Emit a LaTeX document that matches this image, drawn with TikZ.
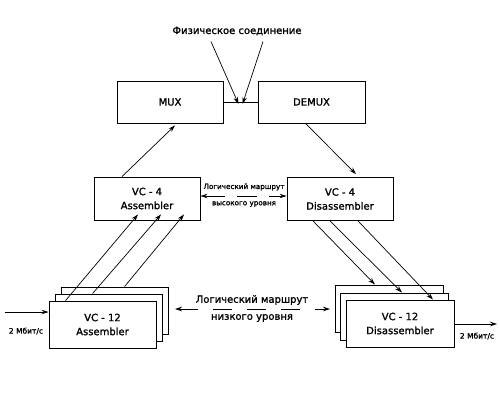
\documentclass[tikz,border=0pt]{standalone}
\usepackage{fontspec}
\setmainfont{DejaVu Sans}[FakeBold=1.3]
\usetikzlibrary{arrows.meta,calc}
\begin{document}
\begin{tikzpicture}[x=1pt,y=-1pt,
  box/.style={draw, fill=white, line width=0.9pt, align=center, inner sep=0pt,
    font=\fontsize{10}{14}\selectfont},
  conn/.style={line width=0.7pt},
  arr/.style={conn, -{Stealth[length=7pt,width=4.5pt]}},
  darr/.style={conn, {Stealth[length=7pt,width=4.5pt]}-{Stealth[length=7pt,width=4.5pt]}},
  lbl/.style={inner sep=0pt, font=\fontsize{10}{12}\selectfont},
  small/.style={inner sep=0pt, font=\fontsize{7.2}{9}\selectfont},
  rate/.style={inner sep=0pt, font=\fontsize{7.5}{9}\selectfont}]
\useasboundingbox[fill=white] (0,0) rectangle (500,400);

% top level
\node[box, minimum width=106pt, minimum height=42pt] (mux) at (170,102) {MUX};
\node[box, minimum width=107pt, minimum height=42pt] (demux) at (311.5,102) {DEMUX};
\node[lbl] (phys) at (237,31) {Физическое соединение};
\draw[conn] (mux.east) -- (demux.west);
\coordinate (pc) at ($(mux.east)!0.5!(demux.west)$);
\draw[arr] ([xshift=-26pt,yshift=-6pt]phys.south) -- ([xshift=-2pt,yshift=-2pt]pc);
\draw[arr] ([xshift=26pt,yshift=-6pt]phys.south) -- ([xshift=2pt,yshift=-2pt]pc);

% VC-4 level
\node[box, minimum width=106pt, minimum height=43pt] (v4a) at (147,198.5) {VC - 4\\Assembler};
\node[box, minimum width=106pt, minimum height=43pt] (v4d) at (340,199) {VC - 4\\Disassembler};
\draw[arr] ([xshift=-25pt]v4a.north) -- ([xshift=5pt,yshift=-2pt]mux.south);
\draw[arr] ([xshift=-6pt]demux.south) -- ([xshift=16pt,yshift=3pt]v4d.north);
\coordinate (hl) at (244,196);
\node[small] (hlt) at (244,187) {Логический маршрут};
\node[small] (hlb) at (244,204) {высокого уровня};
\draw[darr, dash pattern=on 20pt off 12pt] (v4a.east |- hl) -- (v4d.west |- hl);

% VC-12 assembler stack
\node[box, minimum width=107pt, minimum height=47pt] (a3) at (114.5,310.5) {};
\node[box, minimum width=107pt, minimum height=47pt] (a2) at (108.5,317.5) {};
\node[box, minimum width=107pt, minimum height=47pt] (a1) at (102.5,324.5) {VC - 12\\Assembler};
\draw[arr] ([xshift=17pt]a1.north west) -- ([xshift=-9pt,yshift=6pt]v4a.south);
\draw[arr] ([xshift=38pt]a2.north west) -- ([xshift=14pt,yshift=6pt]v4a.south);
\draw[arr] ([xshift=64pt]a3.north west) -- ([xshift=37pt,yshift=6pt]v4a.south);

% VC-12 disassembler stack
\node[box, minimum width=108pt, minimum height=47pt] (d3) at (389,308.5) {};
\node[box, minimum width=108pt, minimum height=47pt] (d2) at (394.5,316.5) {};
\node[box, minimum width=108pt, minimum height=47pt] (d1) at (400,323.5) {VC - 12\\Disassembler};
\draw[arr] ([xshift=-27pt]v4d.south) -- ([xshift=-14pt]d3.north);
\draw[arr] ([xshift=-10pt]v4d.south) -- ([xshift=7.5pt]d2.north);
\draw[arr] ([xshift=18pt]v4d.south) -- ([xshift=33pt]d1.north);

% low-level route
\coordinate (ll) at (252,309);
\node[lbl] (llt) at (252,300) {Логический маршрут};
\node[lbl] (llb) at (252,318) {низкого уровня};
\draw[darr, dash pattern=on 19pt off 15pt] ([xshift=-77pt]ll) -- ([xshift=78pt]ll);

% inputs / outputs
\coordinate (in) at (5,312);
\draw[arr] (in) -- (in -| a1.west);
\node[rate] (inl) at (26,331) {2 Мбит/с};
\coordinate (out) at (497,324);
\draw[arr] (out -| d1.east) -- (out);
\node[rate] (outl) at (477,336) {2 Мбит/с};
\end{tikzpicture}
\end{document}
